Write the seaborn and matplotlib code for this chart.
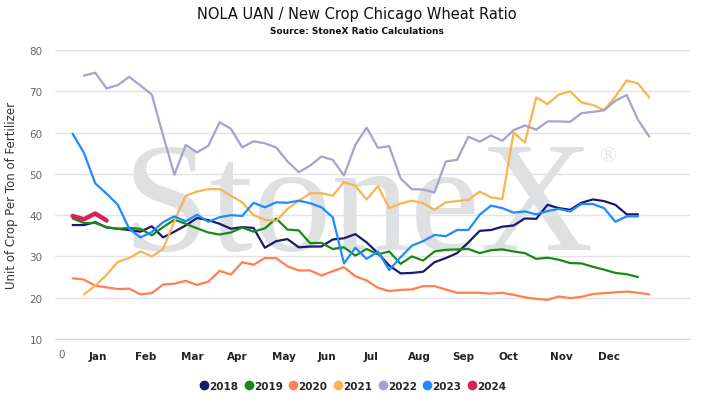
import matplotlib
matplotlib.use("Agg")
import matplotlib.pyplot as plt
from matplotlib.lines import Line2D
import seaborn as sns

# weekly ratio values
w2018 = list(range(1, 52))
v2018 = [37.6, 37.6, 38.3, 37.0, 36.7, 36.4, 36.0, 37.3, 34.6, 36.0,
         37.5, 39.3, 38.8, 37.9, 36.7, 37.1, 36.9, 32.1, 33.7, 34.2,
         32.2, 32.4, 32.4, 34.1, 34.4, 35.4, 33.4, 30.8, 27.8, 25.9,
         26.0, 26.3, 28.6, 29.6, 30.8, 33.4, 36.2, 36.4, 37.2, 37.5,
         39.2, 39.1, 42.5, 41.7, 41.3, 43.0, 43.8, 43.4, 42.5, 40.2, 40.2]
w2019 = list(range(1, 52))
v2019 = [39.2, 38.1, 38.1, 37.1, 36.7, 36.9, 36.7, 35.1, 37.1, 38.9,
         37.9, 36.8, 35.8, 35.3, 35.8, 37.0, 36.0, 36.8, 39.2, 36.5,
         36.3, 33.2, 33.3, 31.8, 32.2, 30.2, 31.8, 30.5, 31.2, 28.2,
         30.0, 29.0, 31.2, 31.6, 31.7, 31.8, 30.8, 31.5, 31.7, 31.2,
         30.8, 29.4, 29.7, 29.2, 28.4, 28.3, 27.5, 26.8, 26.0, 25.7, 25.0]
w2020 = list(range(1, 53))
v2020 = [24.7, 24.4, 22.9, 22.5, 22.1, 22.2, 20.8, 21.1, 23.2, 23.4,
         24.1, 23.1, 23.9, 26.5, 25.6, 28.6, 28.0, 29.6, 29.6, 27.6,
         26.6, 26.6, 25.4, 26.4, 27.4, 25.2, 24.2, 22.4, 21.6, 21.9,
         22.0, 22.8, 22.8, 22.0, 21.2, 21.2, 21.2, 21.0, 21.2, 20.7,
         20.1, 19.7, 19.5, 20.3, 19.9, 20.2, 20.9, 21.1, 21.3, 21.5, 21.2, 20.8]
w2021 = list(range(2, 53))
v2021 = [20.8, 22.9, 25.5, 28.7, 29.6, 31.2, 30.0, 31.8, 38.5, 44.7,
         45.7, 46.3, 46.3, 44.7, 43.1, 40.0, 38.9, 38.6, 41.5, 43.5,
         45.3, 45.3, 44.7, 48.0, 47.1, 43.8, 47.0, 41.7, 42.8, 43.5,
         42.9, 41.3, 43.1, 43.4, 43.7, 45.7, 44.3, 43.9, 60.0, 57.6,
         68.5, 66.9, 69.2, 70.0, 67.3, 66.7, 65.4, 68.7, 72.6, 71.9, 68.5]
w2022 = list(range(2, 53))
v2022 = [73.8, 74.5, 70.7, 71.5, 73.5, 71.4, 69.2, 59.3, 49.8, 57.0,
         55.2, 56.8, 62.5, 60.9, 56.4, 57.9, 57.4, 56.4, 53.0, 50.4,
         52.0, 54.2, 53.4, 49.6, 57.0, 61.2, 56.3, 56.7, 48.9, 46.3,
         46.2, 45.5, 53.0, 53.4, 59.0, 57.8, 59.3, 58.0, 60.6, 61.7,
         60.7, 62.7, 62.7, 62.6, 64.7, 65.0, 65.4, 67.7, 69.1, 63.1, 59.0]
w2023 = list(range(1, 52))
v2023 = [59.7, 55.1, 47.7, 45.2, 42.5, 36.7, 34.6, 35.9, 38.3, 39.7,
         38.5, 40.1, 38.4, 39.5, 40.0, 39.8, 43.0, 41.9, 43.1, 43.0,
         43.5, 42.9, 41.9, 39.5, 28.3, 32.1, 29.4, 31.2, 26.7, 29.8,
         32.6, 33.7, 35.2, 34.9, 36.4, 36.4, 40.1, 42.3, 41.7, 40.6,
         40.9, 40.2, 41.0, 41.5, 40.9, 42.7, 42.7, 41.7, 38.4, 39.7, 39.7]
w2024 = [1, 2, 3, 4]
v2024 = [39.8, 39.0, 40.4, 38.7]

years = ["2018", "2019", "2020", "2021", "2022", "2023", "2024"]
weeks = [w2018, w2019, w2020, w2021, w2022, w2023, w2024]
values = [v2018, v2019, v2020, v2021, v2022, v2023, v2024]
colors = ["#191970", "#168a16", "#ff7f50", "#f9b44f", "#a3a3cc", "#1e8cff", "#d42450"]

months = ["Jan", "Feb", "Mar", "Apr", "May", "Jun",
          "Jul", "Aug", "Sep", "Oct", "Nov", "Dec"]
month_pos = [3.18, 7.46, 11.56, 15.52, 19.68, 23.48,
             27.37, 31.64, 35.57, 39.58, 44.24, 48.43]

sns.set_style("white")
plt.rcParams["font.family"] = ["DejaVu Sans"]

fig = plt.figure(figsize=(7.14, 4.10), dpi=100)
ax = fig.add_axes([55 / 714, 1 - 340 / 410, 635 / 714, 289 / 410])

# watermark
ax.text(0.477, 0.311, "StoneX", transform=ax.transAxes, ha="center",
        va="baseline", fontsize=113, family="Liberation Serif",
        color="#dfe0e2", zorder=0)
ax.text(0.872, 0.63, "\u00ae", transform=ax.transAxes, ha="center", va="center",
        fontsize=16, family="Liberation Serif", color="#e4e4e6", zorder=0)

for yr, wk, vals, col in zip(years, weeks, values, colors):
    lw = 3.2 if yr == "2024" else 1.6
    sns.lineplot(x=wk, y=vals, color=col, linewidth=lw, ax=ax, zorder=3)

ax.set_xlim(-0.56, 55.6)
ax.set_ylim(10, 80)
ax.set_yticks(range(10, 81, 10))
ax.yaxis.grid(True, color="#e3e3e3", linewidth=1)
ax.tick_params(axis="y", length=0, labelsize=7.5, labelcolor="#666666", pad=9)
ax.set_xticks(month_pos)
ax.set_xticklabels(months, fontsize=7.5, fontweight="bold", color="#222222")
ax.tick_params(axis="x", length=0, pad=9)
ax.text(0, -0.035, "0", transform=ax.get_xaxis_transform(), ha="center", va="top",
        fontsize=7.5, color="#666666")
for s in ["top", "right", "left"]:
    ax.spines[s].set_visible(False)
ax.spines["bottom"].set_color("#ccd6eb")
ax.set_xlabel("")
ax.set_ylabel("Unit of Crop Per Ton of Fertilizer", fontsize=8.5, color="#333333", labelpad=8)

fig.text(0.5, 1 - 15 / 410, "NOLA UAN / New Crop Chicago Wheat Ratio",
         ha="center", va="center", fontsize=10.5, color="#111111")
fig.text(0.5, 1 - 32 / 410, "Source: StoneX Ratio Calculations",
         ha="center", va="center", fontsize=6.5, fontweight="bold", color="#111111")

handles = [Line2D([], [], marker="o", linestyle="", color=c, markersize=6) for c in colors]
leg = fig.legend(handles, years, loc="center", bbox_to_anchor=(352 / 714, 1 - 387 / 410),
                 ncol=7, frameon=False, handletextpad=-0.1, columnspacing=0.4,
                 handlelength=1.2, prop={"size": 7.5, "weight": "bold"})

fig.savefig("out.png", dpi=100)
